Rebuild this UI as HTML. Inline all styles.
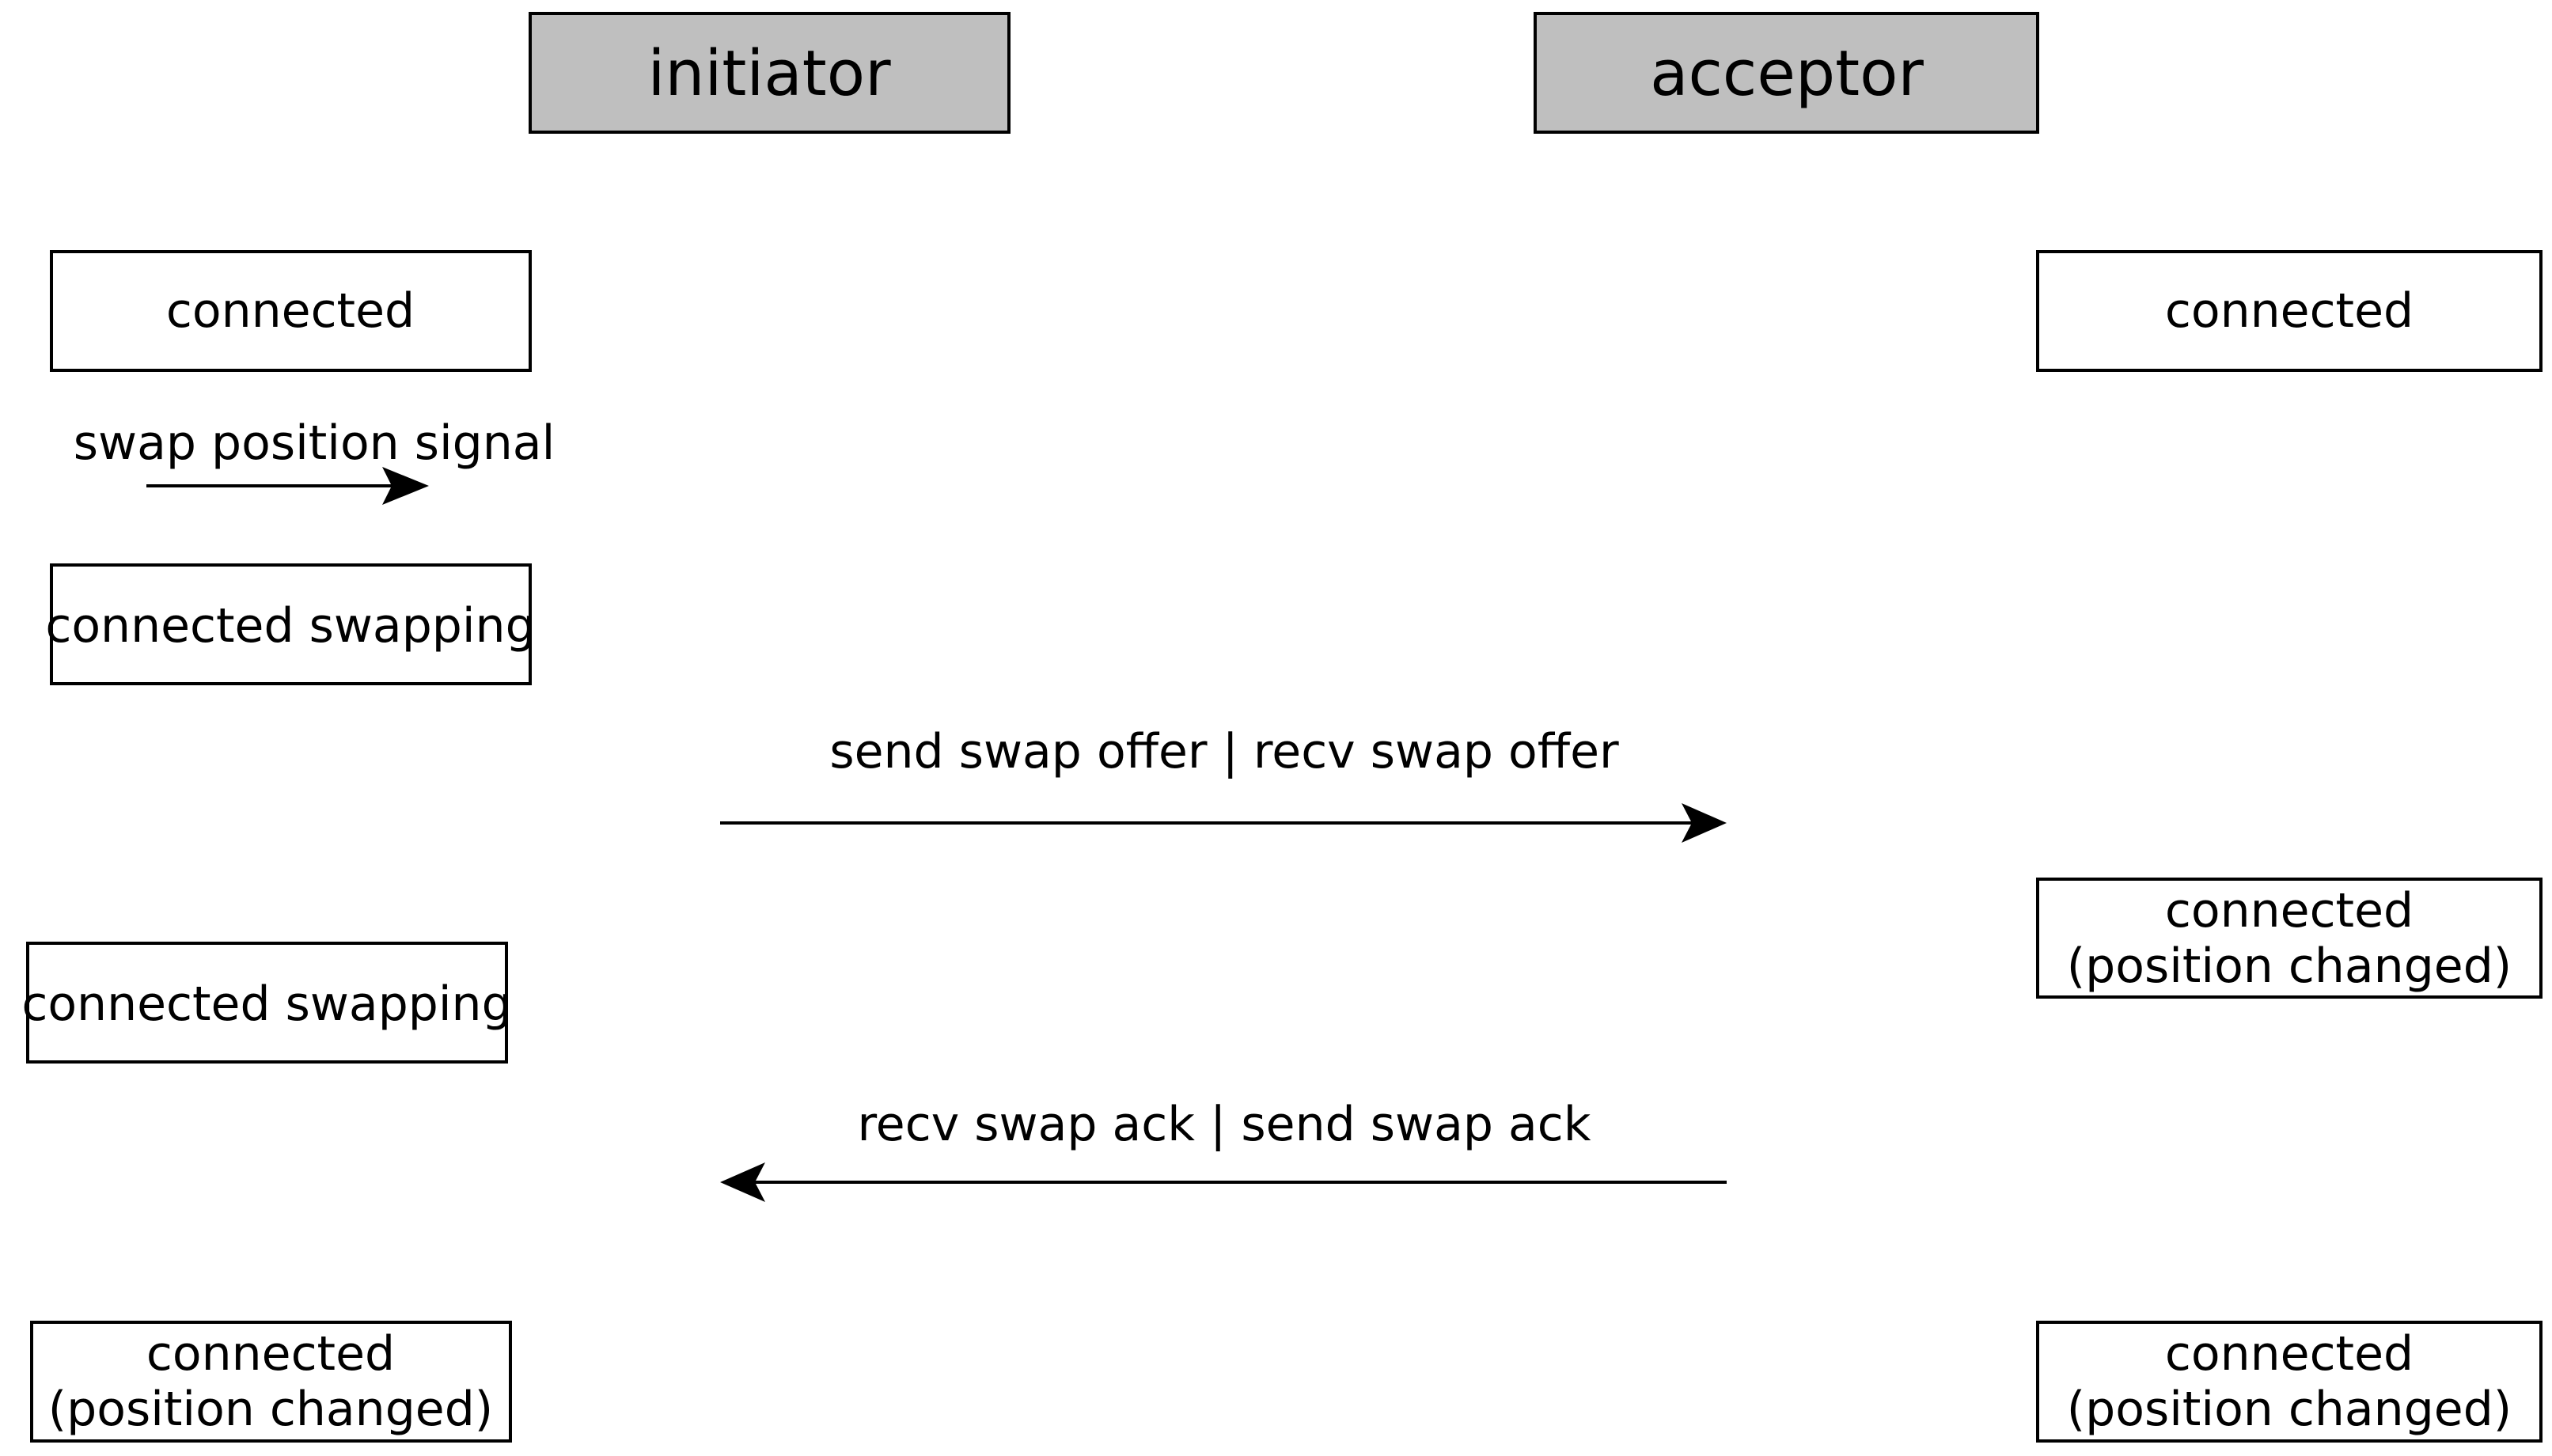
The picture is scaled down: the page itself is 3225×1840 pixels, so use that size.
<!DOCTYPE html>
<html><head><meta charset="utf-8"><style>html,body{margin:0;padding:0;background:#fff}svg{display:block}</style></head>
<body>
<svg width="3225" height="1840" viewBox="0 0 3225 1840" xmlns="http://www.w3.org/2000/svg" font-family="'DejaVu Sans','Liberation Sans',sans-serif" text-anchor="middle" fill="#000">
<rect width="3225" height="1840" fill="#fff"/>
<g stroke="#000" stroke-width="4">
<rect x="670" y="17" width="605" height="150" fill="#bfbfbf"/>
<rect x="1940" y="17" width="635" height="150" fill="#bfbfbf"/>
<rect x="65" y="318" width="605" height="150" fill="none"/>
<rect x="2575" y="318" width="636" height="150" fill="none"/>
<rect x="65" y="714" width="605" height="150" fill="none"/>
<rect x="2575" y="1111" width="636" height="149" fill="none"/>
<rect x="35" y="1192" width="605" height="150" fill="none"/>
<rect x="40" y="1671" width="605" height="150" fill="none"/>
<rect x="2575" y="1671" width="636" height="150" fill="none"/>
<line x1="185" y1="614" x2="520" y2="614"/>
<line x1="910" y1="1040" x2="2160" y2="1040"/>
<line x1="932" y1="1494" x2="2182" y2="1494"/>
</g>
<path d="M542,614 L483,590 L495,614 L483,638 Z"/>
<path d="M2182,1040 L2125,1015 L2138,1040 L2125,1065 Z"/>
<path d="M910,1494 L967,1469 L954,1494 L967,1519 Z"/>
<g font-size="79"><text x="972" y="120">initiator</text><text x="2258" y="120">acceptor</text></g>
<g font-size="60">
<text x="367" y="413">connected</text>
<text x="2893" y="413">connected</text>
<text x="397" y="580">swap position signal</text>
<text x="367" y="811">connected swapping</text>
<text x="1547" y="970">send swap offer | recv swap offer</text>
<text x="2893" y="1171">connected</text>
<text x="2893" y="1241">(position changed)</text>
<text x="337" y="1289">connected swapping</text>
<text x="1547" y="1441">recv swap ack | send swap ack</text>
<text x="342" y="1731">connected</text>
<text x="342" y="1801">(position changed)</text>
<text x="2893" y="1731">connected</text>
<text x="2893" y="1801">(position changed)</text>
</g>
</svg>
</body></html>
